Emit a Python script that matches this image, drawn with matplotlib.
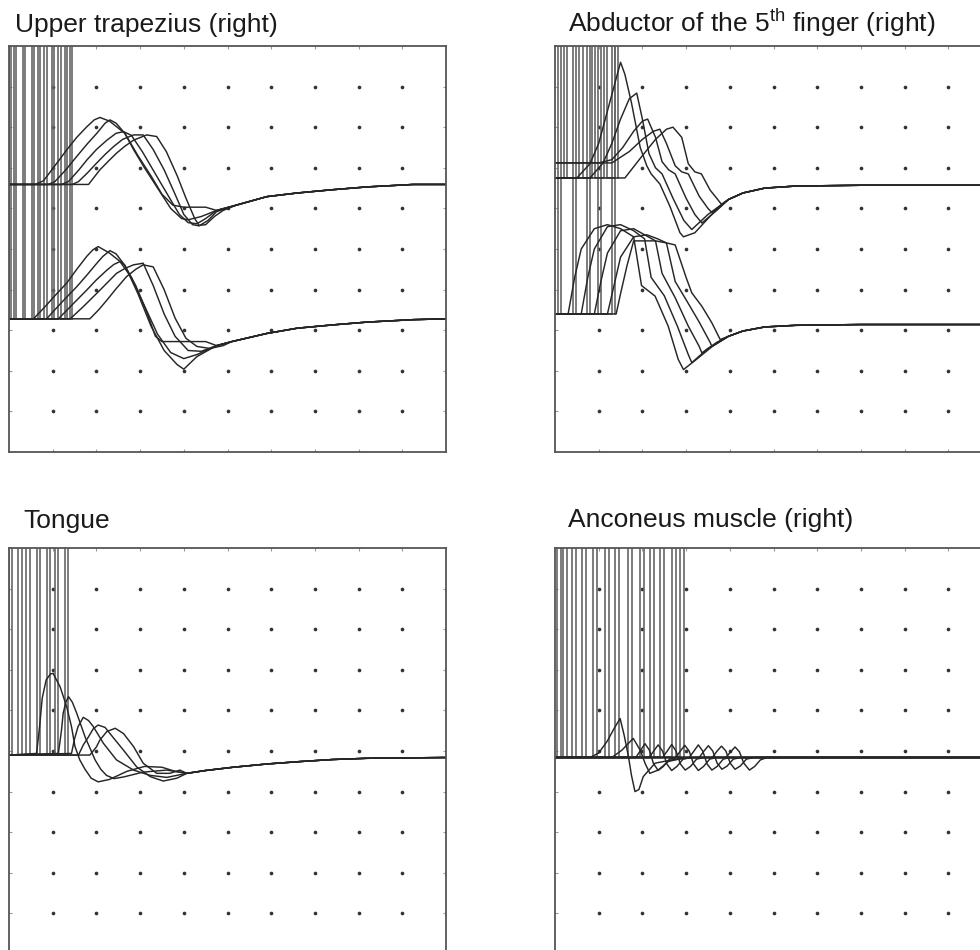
import matplotlib
matplotlib.use("Agg")
import matplotlib.pyplot as plt

plt.rcParams['font.family'] = ['Liberation Sans', 'DejaVu Sans']
plt.rcParams['mathtext.fontset'] = 'custom'
plt.rcParams['mathtext.rm'] = 'Liberation Sans'

# ---- panel titles ----
titles = ["Upper trapezius (right)",
          r"Abductor of the 5$^{\mathrm{th}}$ finger (right)",
          "Tongue",
          "Anconeus muscle (right)"]

# grid dot positions (screen divisions)
grid_x = [1, 2, 3, 4, 5, 6, 7, 8, 9]
grid_y = [1, 2, 3, 4, 5, 6, 7, 8, 9]

# ---- Upper trapezius: stimulus artefacts + two series of 5 sweeps ----
trap_stim = [0.0, 0.12, 0.31, 0.52, 0.67, 0.81, 0.98, 1.13, 1.28, 1.39]
trap_stim_floor = 3.28

trap_upper = [
    [(0, 6.59), (0.6, 6.59), (0.79, 6.68), (1.05, 7.05), (1.32, 7.44), (1.55, 7.75), (1.78, 8.01), (1.95, 8.18),
     (2.08, 8.24), (2.3, 8.15), (2.65, 7.85), (2.95, 7.3), (3.25, 6.8), (3.5, 6.35), (3.75, 6.08), (4.0, 6.03),
     (4.5, 6.03), (4.75, 5.95)],
    [(0, 6.59), (0.9, 6.59), (1.05, 6.66), (1.3, 6.95), (1.55, 7.28), (1.8, 7.6), (2.01, 7.85), (2.2, 8.1),
     (2.31, 8.18), (2.45, 8.1), (2.65, 7.85), (2.85, 7.45), (3.1, 7.0), (3.4, 6.5), (3.7, 6.0), (3.95, 5.75),
     (4.1, 5.72), (4.4, 5.8), (4.75, 5.95)],
    [(0, 6.59), (1.2, 6.59), (1.36, 6.66), (1.6, 6.95), (1.78, 7.19), (2.0, 7.45), (2.24, 7.68), (2.45, 7.85),
     (2.62, 7.89), (2.8, 7.8), (3.05, 7.4), (3.35, 6.85), (3.65, 6.3), (3.9, 5.85), (4.1, 5.65), (4.3, 5.62),
     (4.5, 5.75), (4.75, 5.95)],
    [(0, 6.59), (1.45, 6.59), (1.59, 6.66), (1.8, 6.88), (2.0, 7.11), (2.2, 7.33), (2.39, 7.52), (2.6, 7.7),
     (2.85, 7.81), (3.07, 7.81), (3.3, 7.45), (3.55, 6.95), (3.8, 6.35), (4.0, 5.85), (4.2, 5.6), (4.35, 5.57),
     (4.55, 5.7), (4.75, 5.92)],
    [(0, 6.59), (1.82, 6.59), (2.08, 6.95), (2.28, 7.17), (2.46, 7.36), (2.65, 7.53), (2.85, 7.68), (3.15, 7.81),
     (3.38, 7.77), (3.6, 7.4), (3.85, 6.8), (4.05, 6.25), (4.25, 5.75), (4.35, 5.58), (4.5, 5.6), (4.7, 5.8),
     (4.9, 5.95)],
]
trap_upper_tail = [(5.2, 6.08), (5.9, 6.29), (6.6, 6.38), (7.4, 6.46), (8.2, 6.53), (9.25, 6.59), (10, 6.59)]

trap_lower = [
    [(0, 3.28), (0.56, 3.28), (0.8, 3.55), (1.05, 3.85), (1.32, 4.16), (1.55, 4.5), (1.78, 4.82), (1.92, 4.98),
     (2.04, 5.06), (2.3, 4.9), (2.65, 4.6), (2.9, 4.1), (3.15, 3.45), (3.35, 2.85), (3.5, 2.72), (4.5, 2.72),
     (4.75, 2.62)],
    [(0, 3.28), (0.86, 3.28), (1.2, 3.68), (1.55, 4.07), (1.8, 4.38), (2.01, 4.65), (2.15, 4.82), (2.31, 4.96),
     (2.45, 4.88), (2.65, 4.6), (2.95, 3.9), (3.25, 3.1), (3.55, 2.5), (3.85, 2.15), (4.0, 2.04), (4.3, 2.35),
     (4.75, 2.62)],
    [(0, 3.28), (1.13, 3.28), (1.45, 3.63), (1.78, 3.99), (2.0, 4.24), (2.24, 4.48), (2.4, 4.62), (2.54, 4.69),
     (2.8, 4.3), (3.1, 3.6), (3.4, 2.9), (3.7, 2.45), (4.0, 2.3), (4.3, 2.4), (4.75, 2.62)],
    [(0, 3.28), (1.4, 3.28), (1.7, 3.58), (2.01, 3.91), (2.25, 4.17), (2.46, 4.4), (2.65, 4.52), (2.85, 4.61),
     (3.07, 4.65), (3.3, 4.1), (3.55, 3.4), (3.8, 2.85), (4.1, 2.5), (4.4, 2.48), (4.75, 2.62)],
    [(0, 3.28), (1.85, 3.28), (2.05, 3.5), (2.24, 3.74), (2.45, 4.02), (2.69, 4.32), (2.9, 4.5), (3.07, 4.61),
     (3.3, 4.56), (3.55, 4.0), (3.8, 3.3), (4.05, 2.8), (4.3, 2.6), (4.6, 2.55), (4.9, 2.62)],
]
trap_lower_tail = [(5.1, 2.72), (5.9, 2.92), (6.6, 3.05), (7.4, 3.13), (8.2, 3.2), (9.25, 3.26), (10, 3.28)]

# ---- Abductor of the 5th finger ----
abd_stim_upper = [0.2, 0.56, 0.85, 1.13, 1.38]
abd_stim_upper_floor = 6.75
abd_stim_lower = [0.07, 0.41, 0.73, 0.98, 1.3]
abd_stim_lower_floor = 3.4

abd_upper = [
    [(0, 6.75), (0.5, 6.75), (0.8, 7.1), (1.0, 7.6), (1.2, 8.4), (1.4, 9.2), (1.5, 9.6), (1.6, 9.3), (1.75, 8.6),
     (1.95, 7.5), (2.1, 7.05), (2.2, 6.85), (2.4, 6.6), (2.63, 6.05), (2.86, 5.4), (2.94, 5.3), (3.2, 5.4),
     (3.62, 5.89), (3.97, 6.22)],
    [(0, 6.75), (0.8, 6.75), (1.1, 7.12), (1.3, 7.6), (1.5, 8.2), (1.7, 8.7), (1.87, 8.84), (2.0, 8.2),
     (2.15, 7.35), (2.3, 7.0), (2.45, 6.85), (2.7, 6.25), (2.95, 5.7), (3.13, 5.48), (3.5, 5.85), (3.97, 6.22)],
    [(0, 7.12), (1.0, 7.12), (1.3, 7.2), (1.55, 7.5), (1.8, 7.9), (2.0, 8.15), (2.12, 8.2), (2.3, 7.75),
     (2.45, 7.15), (2.6, 6.95), (2.75, 6.85), (3.0, 6.25), (3.2, 5.85), (3.36, 5.64), (3.7, 5.95), (3.97, 6.22)],
    [(0, 7.12), (1.3, 7.12), (1.7, 7.4), (2.0, 7.7), (2.25, 7.9), (2.4, 7.95), (2.55, 7.6), (2.75, 7.05),
     (2.9, 6.9), (3.05, 6.85), (3.3, 6.3), (3.5, 6.0), (3.59, 5.9), (3.97, 6.22)],
    [(0, 6.75), (1.6, 6.75), (2.0, 7.3), (2.3, 7.7), (2.55, 7.95), (2.7, 8.0), (2.9, 7.75), (3.05, 7.1),
     (3.2, 6.9), (3.35, 6.85), (3.55, 6.45), (3.7, 6.25), (3.81, 6.1), (3.97, 6.22)],
]
abd_upper_tail = [(4.3, 6.38), (4.8, 6.5), (5.5, 6.55), (7.0, 6.57), (10, 6.57)]

abd_lower = [
    [(0, 3.4), (0.3, 3.4), (0.45, 4.3), (0.6, 5.0), (0.9, 5.5), (1.2, 5.6), (1.5, 5.5), (1.8, 5.3), (1.98, 4.1),
     (2.29, 3.84), (2.59, 3.1), (2.82, 2.28), (2.94, 2.03), (3.2, 2.25), (3.6, 2.6), (3.97, 2.85)],
    [(0, 3.4), (0.6, 3.4), (0.75, 4.3), (0.9, 5.0), (1.2, 5.55), (1.5, 5.6), (1.8, 5.45), (2.05, 5.25),
     (2.2, 4.3), (2.5, 3.85), (2.8, 3.1), (3.05, 2.4), (3.13, 2.2), (3.5, 2.55), (3.97, 2.85)],
    [(0, 3.4), (0.9, 3.4), (1.05, 4.2), (1.2, 4.9), (1.5, 5.45), (1.8, 5.5), (2.05, 5.35), (2.3, 5.2),
     (2.45, 4.4), (2.75, 3.8), (3.05, 3.1), (3.3, 2.6), (3.36, 2.44), (3.7, 2.7), (3.97, 2.85)],
    [(0, 3.4), (1.2, 3.4), (1.35, 4.1), (1.5, 4.8), (1.8, 5.3), (2.1, 5.35), (2.35, 5.25), (2.55, 5.15),
     (2.75, 4.2), (3.0, 3.75), (3.3, 3.2), (3.55, 2.7), (3.59, 2.6), (3.97, 2.85)],
    [(0, 3.4), (1.4, 3.4), (1.5, 3.9), (1.65, 4.6), (1.8, 5.2), (2.3, 5.2), (2.55, 5.15), (2.75, 5.1),
     (3.0, 4.3), (3.13, 3.92), (3.36, 3.59), (3.59, 3.18), (3.78, 2.77), (3.97, 2.85)],
]
abd_lower_tail = [(4.3, 2.98), (4.8, 3.08), (5.5, 3.12), (7.0, 3.14), (10, 3.14)]

# ---- Tongue ----
tongue_stim = [0.0, 0.21, 0.4, 0.63, 0.86, 1.05, 1.28]
tongue_stim_floor = 4.9

tongue = [
    [(0, 4.9), (0.63, 4.94), (0.7, 5.6), (0.76, 6.3), (0.85, 6.75), (0.95, 6.9), (1.01, 6.91), (1.17, 6.58),
     (1.32, 6.09), (1.43, 5.6), (1.51, 5.11), (1.62, 4.78), (1.74, 4.55), (1.88, 4.33), (2.04, 4.24),
     (2.3, 4.3), (2.7, 4.5), (3.1, 4.62), (3.5, 4.6), (3.8, 4.5), (4.07, 4.45)],
    [(0, 4.9), (1.13, 4.94), (1.2, 5.5), (1.24, 5.93), (1.3, 6.2), (1.36, 6.34), (1.45, 6.2), (1.55, 5.93),
     (1.74, 5.35), (1.97, 4.78), (2.1, 4.55), (2.23, 4.4), (2.4, 4.32), (2.62, 4.36), (3.07, 4.48),
     (3.61, 4.53), (4.07, 4.45)],
    [(0, 4.9), (1.43, 4.94), (1.5, 5.3), (1.58, 5.6), (1.7, 5.83), (1.82, 5.75), (1.93, 5.6), (2.16, 5.19),
     (2.46, 4.78), (2.85, 4.53), (3.23, 4.4), (3.61, 4.35), (4.07, 4.45)],
    [(0, 4.9), (1.59, 4.9), (1.7, 5.15), (1.82, 5.35), (1.93, 5.55), (2.04, 5.64), (2.2, 5.58), (2.31, 5.43),
     (2.62, 5.02), (2.92, 4.61), (3.23, 4.37), (3.53, 4.26), (3.84, 4.33), (4.07, 4.45)],
    [(0, 4.9), (1.85, 4.9), (2.0, 5.1), (2.08, 5.27), (2.24, 5.48), (2.43, 5.56), (2.62, 5.43), (2.85, 5.11),
     (3.07, 4.7), (3.38, 4.45), (3.68, 4.45), (3.91, 4.53), (4.07, 4.45)],
]
tongue_tail = [(4.5, 4.52), (5.13, 4.6), (5.9, 4.68), (6.66, 4.74), (7.4, 4.79), (8.18, 4.82), (10, 4.84)]

# ---- Anconeus ----
anc_stim = [0.04, 0.19, 0.38, 0.61, 0.88, 1.14, 1.37, 1.68, 1.95, 2.17, 2.4, 2.67, 2.86]
anc_stim_floor = 4.84

anconeus = [
    [(0, 4.84), (0.8, 4.84), (1.0, 4.95), (1.2, 5.25), (1.35, 5.55), (1.49, 5.8), (1.58, 5.4), (1.68, 4.87),
     (1.75, 4.4), (1.83, 4.0), (1.92, 4.05), (2.02, 4.37), (2.29, 4.7), (2.67, 4.78), (3.2, 4.84)],
    [(0, 4.84), (1.3, 4.84), (1.53, 5.02), (1.79, 5.31), (1.95, 5.02), (2.06, 4.7), (2.17, 4.45), (2.36, 4.53),
     (2.59, 4.74), (2.9, 4.82), (3.2, 4.84)],
    [(0, 4.84), (1.85, 4.84), (1.96, 5.02), (2.06, 5.18), (2.16, 5.02), (2.25, 4.7), (2.36, 4.52), (2.48, 4.62),
     (2.62, 4.8), (2.8, 4.84)],
    [(0, 4.84), (2.15, 4.84), (2.26, 5.0), (2.36, 5.15), (2.46, 5.0), (2.56, 4.68), (2.67, 4.52), (2.79, 4.62),
     (2.93, 4.8), (3.1, 4.84)],
    [(0, 4.84), (2.46, 4.84), (2.57, 5.0), (2.67, 5.16), (2.77, 5.0), (2.87, 4.68), (2.98, 4.53), (3.1, 4.62),
     (3.24, 4.8), (3.4, 4.84)],
    [(0, 4.84), (2.76, 4.84), (2.87, 5.0), (2.97, 5.14), (3.07, 5.0), (3.17, 4.68), (3.28, 4.52), (3.4, 4.62),
     (3.54, 4.8), (3.7, 4.84)],
    [(0, 4.84), (3.07, 4.84), (3.18, 5.0), (3.28, 5.15), (3.38, 5.0), (3.48, 4.68), (3.59, 4.53), (3.71, 4.62),
     (3.85, 4.8), (4.0, 4.84)],
    [(0, 4.84), (3.3, 4.84), (3.41, 5.0), (3.51, 5.13), (3.61, 5.0), (3.71, 4.7), (3.82, 4.55), (3.94, 4.63),
     (4.08, 4.8), (4.25, 4.84)],
    [(0, 4.84), (3.6, 4.84), (3.71, 5.0), (3.81, 5.12), (3.91, 5.0), (4.01, 4.7), (4.12, 4.55), (4.24, 4.63),
     (4.38, 4.8), (4.55, 4.84)],
    [(0, 4.84), (3.91, 4.84), (4.02, 4.98), (4.12, 5.1), (4.22, 4.98), (4.32, 4.7), (4.45, 4.53), (4.57, 4.62),
     (4.7, 4.78), (4.85, 4.84)],
]
anc_tail = [(5.5, 4.84), (10, 4.84)]

INK = '#262626'
PULSE = '#666666'
STIM_W = {'trap': 0.05, 'abd': 0.07, 'tongue': 0.08, 'anc': 0.09}


def draw_stim(ax, starts, width, floor):
    # each artefact runs off the top of the screen
    xs, ys = [0], [floor]
    for s in starts:
        xs += [s, s, s + width, s + width]
        ys += [floor, 12, 12, floor]
    ax.plot(xs, ys, color=PULSE, lw=1.2, solid_joinstyle='miter')


def draw_sweeps(ax, sweeps, tail):
    for sw in sweeps:
        pts = sw + tail
        ax.plot([p[0] for p in pts], [p[1] for p in pts], color=INK, lw=1.05, solid_joinstyle='round')


def setup(ax):
    ax.set_xlim(0, 10)
    ax.set_ylim(0, 10)
    gx = [x for x in grid_x for _ in grid_y]
    gy = [y for _ in grid_x for y in grid_y]
    ax.scatter(gx, gy, s=7, color='#333333', zorder=1, linewidths=0)
    ax.set_xticks(grid_x)
    ax.set_yticks(grid_y)
    ax.tick_params(direction='in', length=2.5, width=0.8, color='#999999',
                   labelleft=False, labelbottom=False, top=True, right=True)
    for sp in ax.spines.values():
        sp.set_color('#555555')
        sp.set_linewidth(1.3)


fig = plt.figure(figsize=(9.8, 9.5), dpi=100)
W, H = 980, 950
aw, ah = 437 / W, 406 / H

ax1 = fig.add_axes([9 / W, 1 - 452 / H, aw, ah])
ax2 = fig.add_axes([555 / W, 1 - 452 / H, aw, ah])
ax3 = fig.add_axes([9 / W, 1 - 954 / H, aw, ah])
ax4 = fig.add_axes([555 / W, 1 - 954 / H, aw, ah])
for ax in (ax1, ax2, ax3, ax4):
    setup(ax)

draw_stim(ax1, trap_stim, STIM_W['trap'], trap_stim_floor)
draw_sweeps(ax1, trap_upper, trap_upper_tail)
draw_sweeps(ax1, trap_lower, trap_lower_tail)

draw_stim(ax2, abd_stim_upper, STIM_W['abd'], abd_stim_upper_floor)
draw_stim(ax2, abd_stim_lower, STIM_W['abd'], abd_stim_lower_floor)
draw_sweeps(ax2, abd_upper, abd_upper_tail)
draw_sweeps(ax2, abd_lower, abd_lower_tail)

draw_stim(ax3, tongue_stim, STIM_W['tongue'], tongue_stim_floor)
draw_sweeps(ax3, tongue, tongue_tail)

draw_stim(ax4, anc_stim, STIM_W['anc'], anc_stim_floor)
draw_sweeps(ax4, anconeus, anc_tail)

# titles above each screen
fig.text(15 / W, 1 - 32 / H, titles[0], fontsize=19, color='#1a1a1a', va='baseline')
fig.text(568 / W, 1 - 32 / H, titles[1], fontsize=19, color='#1a1a1a', va='baseline')
fig.text(23 / W, 1 - 528 / H, titles[2], fontsize=19, color='#1a1a1a', va='baseline')
fig.text(568 / W, 1 - 527 / H, titles[3], fontsize=19, color='#1a1a1a', va='baseline')

fig.savefig('out.png', dpi=100)
